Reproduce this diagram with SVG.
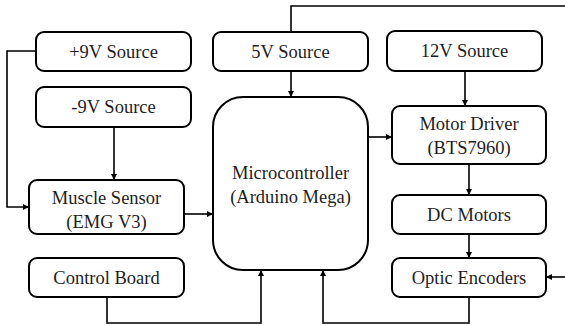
<svg xmlns="http://www.w3.org/2000/svg" width="565" height="325" viewBox="0 0 565 325">
  <defs>
    <marker id="arrow" viewBox="0 0 10 10" refX="10" refY="5" markerWidth="6" markerHeight="6" markerUnits="userSpaceOnUse" orient="auto">
      <path d="M0,0 L10,5 L0,10 z" fill="#000"/>
    </marker>
    <style>
      .box { fill: #fff; stroke: #000; stroke-width: 2; }
      .lbl { font-size: 18.5px; fill: #1e1e1e; text-anchor: middle; }
      .wire { fill: none; stroke: #000; stroke-width: 1.6; }
      .arr { marker-end: url(#arrow); }
    </style>
  </defs>
  <rect width="565" height="325" fill="#fff"/>

  <g id="connectors">
    <!-- +9V to muscle sensor -->
    <path class="wire arr" d="M36,51 H7 V207 H29"/>
    <!-- -9V to muscle sensor -->
    <path class="wire arr" d="M114,127 V180"/>
    <!-- muscle sensor to microcontroller -->
    <path class="wire arr" d="M184,214 H213"/>
    <!-- control board to microcontroller -->
    <path class="wire arr" d="M107,297 V323 H261 V270"/>
    <!-- optic encoders to microcontroller -->
    <path class="wire arr" d="M469,297 V323 H323 V270"/>
    <!-- 5V to microcontroller -->
    <path class="wire arr" d="M291,71 V97"/>
    <!-- 5V feed to encoders (runs along top edge) -->
    <path class="wire" d="M291,32 V6 H565"/>
    <path class="wire arr" d="M565,277 H546"/>
    <!-- 12V to motor driver -->
    <path class="wire arr" d="M465,71 V106"/>
    <!-- microcontroller to motor driver -->
    <path class="wire arr" d="M368,137 H392"/>
    <!-- motor driver to DC motors -->
    <path class="wire arr" d="M469,164 V195"/>
    <!-- DC motors to optic encoders -->
    <path class="wire arr" d="M469,234 V258"/>
  </g>

  <g id="nodes" font-family="Liberation Serif, Times New Roman, serif">
    <g id="plus9v">
      <rect class="box" x="36" y="32" width="155" height="39" rx="8"/>
      <text class="lbl" x="113.5" y="58">+9V Source</text>
    </g>
    <g id="minus9v">
      <rect class="box" x="36" y="87" width="155" height="40" rx="8"/>
      <text class="lbl" x="113.5" y="113">-9V Source</text>
    </g>
    <g id="src5v">
      <rect class="box" x="213" y="32" width="155" height="39" rx="8"/>
      <text class="lbl" x="290.5" y="58">5V Source</text>
    </g>
    <g id="src12v">
      <rect class="box" x="387" y="31" width="155" height="40" rx="8"/>
      <text class="lbl" x="464.5" y="57">12V Source</text>
    </g>
    <g id="microcontroller">
      <rect class="box" x="213" y="97" width="155" height="173" rx="30"/>
      <text class="lbl" x="290.5" y="179">Microcontroller</text>
      <text class="lbl" x="290.5" y="203">(Arduino Mega)</text>
    </g>
    <g id="motordriver">
      <rect class="box" x="392" y="106" width="154" height="58" rx="8"/>
      <text class="lbl" x="469" y="130">Motor Driver</text>
      <text class="lbl" x="469" y="154">(BTS7960)</text>
    </g>
    <g id="musclesensor">
      <rect class="box" x="29" y="180" width="155" height="54" rx="8"/>
      <text class="lbl" x="106.5" y="204">Muscle Sensor</text>
      <text class="lbl" x="106.5" y="228">(EMG V3)</text>
    </g>
    <g id="controlboard">
      <rect class="box" x="29" y="258" width="155" height="39" rx="8"/>
      <text class="lbl" x="106.5" y="284">Control Board</text>
    </g>
    <g id="dcmotors">
      <rect class="box" x="392" y="195" width="154" height="39" rx="8"/>
      <text class="lbl" x="469" y="221">DC Motors</text>
    </g>
    <g id="opticencoders">
      <rect class="box" x="392" y="258" width="154" height="39" rx="8"/>
      <text class="lbl" x="469" y="284">Optic Encoders</text>
    </g>
  </g>
</svg>
